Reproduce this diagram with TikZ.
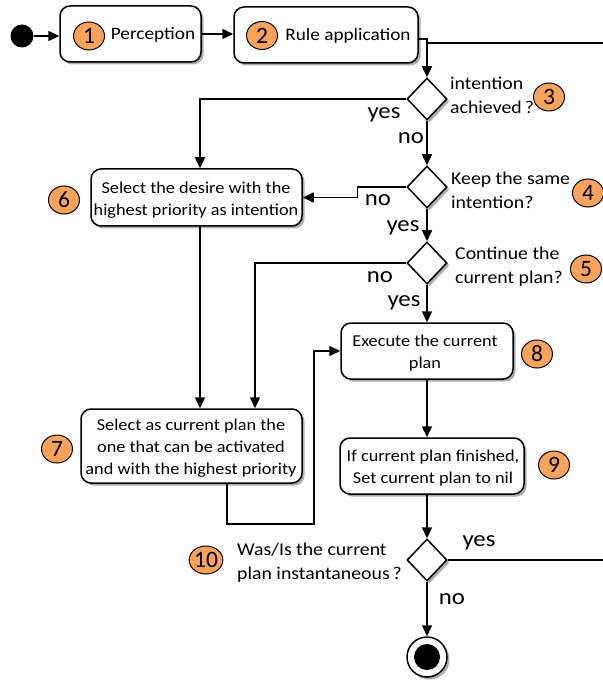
\documentclass[tikz,border=0pt]{standalone}
\usepackage{fontspec}
\setmainfont{Carlito}[FakeStretch=1.1]
\newfontfamily\numfont{Carlito}
\usetikzlibrary{shapes.geometric,arrows.meta,shadows,calc}
\definecolor{numorange}{HTML}{F7A35C}
\begin{document}
\begin{tikzpicture}[x=1pt,y=-1pt,
  line/.style={line width=1.5pt},
  arr/.style={line width=1.5pt,-{Triangle[length=11pt,width=10pt]}},
  shad/.style={drop shadow={shadow xshift=2.5pt,shadow yshift=-2.5pt,fill=gray!65,opacity=1}},
  box/.style={draw,line width=1.5pt,rounded corners=10pt,fill=white,shad,inner sep=0pt},
  dia/.style={diamond,draw,line width=1.5pt,fill=white,minimum width=40pt,minimum height=42pt,inner sep=0pt,shad},
  num/.style={ellipse,draw,line width=1pt,fill=numorange,minimum width=31pt,minimum height=28pt,inner sep=0pt,font=\numfont\fontsize{23.5}{23.5}\selectfont},
  btext/.style={align=center,font=\fontsize{16.6}{22}\selectfont,inner sep=0pt},
  atext/.style={align=left,anchor=west,font=\fontsize{18}{24}\selectfont,inner sep=0pt},
  lab/.style={font=\fontsize{22.5}{22.5}\selectfont,inner sep=0pt}
]
\useasboundingbox (0,0) rectangle (602,684);

% start / end
\node[circle,fill=black,minimum size=23pt,inner sep=0pt] (init) at (22,36) {};
\node[circle,draw,line width=1.5pt,fill=white,minimum size=40pt,inner sep=0pt,shad] (fin) at (427,657) {};
\fill (fin.center) circle (13pt);

% boxes
\node[box,minimum width=141pt,minimum height=56pt] (b1) at (130.5,34) {};
\node[box,minimum width=184pt,minimum height=56pt] (b2) at (326,35) {};
\node[box,minimum width=211pt,minimum height=57pt] (b6) at (196.5,197.5) {};
\node[box,minimum width=221pt,minimum height=74pt] (b7) at (191.5,446) {};
\node[box,minimum width=172pt,minimum height=56pt] (b8) at (427,351) {};
\node[box,minimum width=184pt,minimum height=56pt] (b9) at (432,466) {};

% box texts
\node[btext,font=\fontsize{17.5}{22}\selectfont] (t1) at (153,35) {Perception};
\node[btext,font=\fontsize{17.5}{22}\selectfont] (t2) at (348,36) {Rule application};
\node[btext] (t6) at (196,200) {Select the desire with the\\highest priority as intention};
\node[btext] (t7) at (191,448) {Select as current plan the\\one that can be activated\\and with the highest priority};
\node[btext] (t8) at (425,353) {Execute the current\\plan};
\node[btext] (t9) at (433,468) {If current plan finished,\\Set current plan to nil};

% diamonds
\node[dia] (d3) at (427,99) {};
\node[dia] (d4) at (427,187) {};
\node[dia] (d5) at (427,263) {};
\node[dia] (d10) at (427,560) {};

% annotations
\node[atext] (a3) at (450,95) {intention\\achieved\,?};
\node[atext] (a4) at (451,190) {Keep the same\\intention?};
\node[atext] (a5) at (455,267) {Continue the\\current plan?};
\node[atext] (a10) at (237,563) {Was/Is the current\\plan instantaneous\,?};

% numbers
\node[num] (n1) at (89,36) {1};
\node[num] (n2) at (262,35.5) {2};
\node[num] (n3) at (549,97) {3};
\node[num] (n4) at (588,193) {4};
\node[num] (n5) at (586,269) {5};
\node[num] (n6) at (64,200) {6};
\node[num] (n7) at (57,449) {7};
\node[num] (n8) at (537,354) {8};
\node[num] (n9) at (554,465) {9};
\node[num,minimum width=33pt] (n10) at (206,560) {10};

% helper coordinates
\coordinate (c6) at (200,0);
\coordinate (c5) at (255,0);
\coordinate (c7) at (227,524);
\coordinate (c7b) at (314,524);
\coordinate (rtop) at (604,43);
\coordinate (join) at (427,43);

% connectors
\draw[arr] (init.east) -- (init.east -| b1.west);
\draw[arr] (b1.east) -- (b1.east -| b2.west);
\draw[arr] ($(b2.east)+(0,4)$) -| (d3.north);
\draw[line] (d10.east) -- (d10.east -| rtop) -- (rtop) -- (join);
\draw[arr] (d3.west) -| (b6.north -| c6);
\draw[arr] (d3.south) -- (d4.north);
\draw[arr] (d4.west) -- ++(-49,0) |- (b6.east);
\draw[arr] (d4.south) -- (d5.north);
\draw[arr] (d5.west) -| (b7.north -| c5);
\draw[arr] (b6.south -| c6) -- (b7.north -| c6);
\draw[arr] (d5.south) -- (b8.north);
\draw[arr] (b7.south -| c7) -- (c7) -- (c7b) |- (b8.west);
\draw[arr] (b8.south) -- (b8.south |- b9.north);
\draw[arr] (b8.south |- b9.south) -- (d10.north);
\draw[arr] (d10.south) -- (fin.north);

% labels
\node[lab] (l1) at (384,115) {yes};
\node[lab] (l2) at (411,138) {no};
\node[lab] (l3) at (378,200) {no};
\node[lab] (l4) at (403,228) {yes};
\node[lab] (l5) at (380,277) {no};
\node[lab] (l6) at (404,303) {yes};
\node[lab] (l7) at (479,543) {yes};
\node[lab] (l8) at (452,599) {no};
\end{tikzpicture}
\end{document}
